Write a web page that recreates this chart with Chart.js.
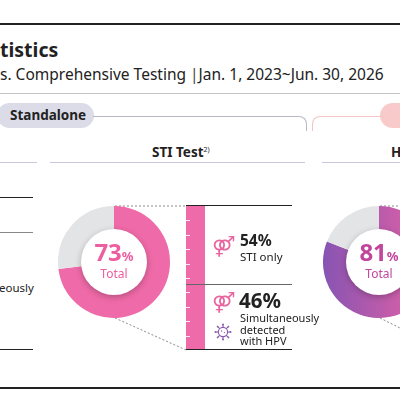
<!DOCTYPE html>
<html>
<head>
<meta charset="utf-8">
<script src="https://cdn.jsdelivr.net/npm/chart.js@4"></script>
<style>
html,body{margin:0;padding:0;width:400px;height:400px;overflow:hidden;background:#fff;font-family:"Noto Sans",sans-serif;color:#222;}
.a{position:absolute;}
.hl{position:absolute;height:0;}
.txt{position:absolute;white-space:nowrap;}
.inner{position:absolute;width:66px;height:66px;border-radius:50%;background:#fff;box-shadow:0 2px 6px rgba(0,0,0,0.25);}
</style>
</head>
<body>
<div class="hl" style="left:0;top:23px;width:400px;border-top:2px solid #222"></div>
<div class="txt" style="left:0;top:36px;font-size:19.5px;font-weight:700;">tistics</div>
<div class="txt" style="left:0;top:63px;font-size:15.5px;color:#222;">s. Comprehensive Testing <span style="color:#444">|</span>Jan. 1, 2023~Jun. 30, 2026</div>
<div class="hl" style="left:0;top:93px;width:400px;border-top:1px solid #c4c4c4"></div>

<div class="a" style="left:-3px;top:103px;width:97px;height:25px;border-radius:13px;background:#dcdce9;"></div>
<div class="txt" style="left:10px;top:106px;font-size:13.5px;font-weight:700;color:#222;">Standalone</div>
<div class="a" style="left:93px;top:116px;width:213px;height:14px;border-top:1px solid #b9b9c6;border-right:1px solid #b9b9c6;border-top-right-radius:8px;"></div>
<div class="a" style="left:312px;top:116px;width:80px;height:14px;border-top:1px solid #f3c6c6;border-left:1px solid #f3c6c6;border-top-left-radius:8px;"></div>
<div class="a" style="left:380px;top:103px;width:60px;height:25px;border-radius:13px;background:#f8cbca;"></div>

<div class="txt" style="left:152px;top:143px;font-size:13.5px;font-weight:700;">STI Test<sup style="font-size:7px;font-weight:400;">2)</sup></div>
<div class="txt" style="left:391px;top:143px;font-size:13.5px;font-weight:700;">H</div>
<div class="hl" style="left:0;top:162px;width:37px;border-top:1.5px solid #c9c9dc"></div>
<div class="hl" style="left:50px;top:162px;width:255px;border-top:1.5px solid #c9c9dc"></div>
<div class="hl" style="left:322px;top:162px;width:80px;border-top:1.5px solid #c9c9dc"></div>

<div class="hl" style="left:0;top:197px;width:33px;border-top:1.5px solid #222"></div>
<div class="hl" style="left:0;top:232px;width:33px;border-top:1px solid #888"></div>
<div class="txt" style="left:-1px;top:280px;font-size:11.5px;">eously</div>
<div class="hl" style="left:0;top:349px;width:33px;border-top:1.5px solid #222"></div>

<svg class="a" style="left:0;top:0" width="400" height="400">
  <line x1="115" y1="206" x2="186" y2="206" stroke="#8a8a8a" stroke-width="1" stroke-dasharray="2,2"/>
  <line x1="115" y1="318" x2="186" y2="350" stroke="#8a8a8a" stroke-width="1" stroke-dasharray="2,2"/>
  <line x1="380" y1="206" x2="400" y2="206" stroke="#8a8a8a" stroke-width="1" stroke-dasharray="2,2"/>
  <line x1="380" y1="318" x2="402" y2="329" stroke="#8a8a8a" stroke-width="1" stroke-dasharray="2,2"/>
</svg>

<div class="a" style="left:58px;top:206px;width:112px;height:112px;"><canvas id="sti"></canvas></div>
<div class="inner" style="left:81px;top:229px;"></div>
<div class="txt" style="left:81px;top:239px;width:66px;text-align:center;color:#ec5e9f;font-weight:700;font-size:24px;line-height:26px;">73<span style="font-size:13px;">%</span></div>
<div class="txt" style="left:81px;top:267px;width:66px;text-align:center;color:#ec5e9f;font-size:12px;line-height:14px;">Total</div>

<div class="a" style="left:323px;top:206px;width:112px;height:112px;"><canvas id="hpv"></canvas></div>
<div class="inner" style="left:346px;top:229px;"></div>
<div class="txt" style="left:346px;top:239px;width:66px;text-align:center;color:#c2459c;font-weight:700;font-size:24px;line-height:26px;">81<span style="font-size:13px;">%</span></div>
<div class="txt" style="left:346px;top:267px;width:66px;text-align:center;color:#c2459c;font-size:12px;line-height:14px;">Total</div>

<div class="a" style="left:186px;top:206px;width:19px;height:144px;"><canvas id="bar"></canvas></div>
<div class="hl" style="left:186px;top:205px;width:106px;border-top:1.5px solid #222"></div>
<div class="hl" style="left:186px;top:349px;width:106px;border-top:1.5px solid #222"></div>
<div class="hl" style="left:186px;top:284px;width:106px;border-top:1px solid #666"></div>

<div class="txt" style="left:212px;top:234px;font-family:'DejaVu Sans';font-size:20px;color:#e9659f;line-height:24px;">⚤</div>
<div class="txt" style="left:240px;top:232px;font-size:15.5px;font-weight:700;line-height:17px;">54%</div>
<div class="txt" style="left:240px;top:250px;font-size:11.5px;line-height:13px;">STI only</div>

<div class="txt" style="left:212px;top:290px;font-family:'DejaVu Sans';font-size:20px;color:#e9659f;line-height:24px;">⚤</div>
<svg class="a" style="left:214px;top:323px" width="18" height="18" viewBox="0 0 18 18">
  <g stroke="#8a5ab0" stroke-width="1.1" fill="none">
    <circle cx="9" cy="9" r="4.6"/>
    <line x1="9" y1="1.8" x2="9" y2="4.4"/><line x1="9" y1="13.6" x2="9" y2="16.2"/>
    <line x1="1.8" y1="9" x2="4.4" y2="9"/><line x1="13.6" y1="9" x2="16.2" y2="9"/>
    <line x1="3.9" y1="3.9" x2="5.7" y2="5.7"/><line x1="12.3" y1="12.3" x2="14.1" y2="14.1"/>
    <line x1="14.1" y1="3.9" x2="12.3" y2="5.7"/><line x1="5.7" y1="12.3" x2="3.9" y2="14.1"/>
  </g>
  <g fill="#8a5ab0">
    <circle cx="9" cy="1.5" r="1"/><circle cx="9" cy="16.5" r="1"/><circle cx="1.5" cy="9" r="1"/><circle cx="16.5" cy="9" r="1"/>
    <circle cx="3.6" cy="3.6" r="0.9"/><circle cx="14.4" cy="14.4" r="0.9"/><circle cx="14.4" cy="3.6" r="0.9"/><circle cx="3.6" cy="14.4" r="0.9"/>
    <circle cx="7.6" cy="8" r="0.7"/><circle cx="10.4" cy="9.6" r="0.7"/>
  </g>
</svg>
<div class="txt" style="left:239px;top:289px;font-size:20.5px;font-weight:700;line-height:22px;">46%</div>
<div class="txt" style="left:240px;top:312px;font-size:11px;line-height:11.5px;">Simultaneously</div>
<div class="txt" style="left:240px;top:323.5px;font-size:11px;line-height:11.5px;">detected</div>
<div class="txt" style="left:240px;top:335px;font-size:11px;line-height:11.5px;">with HPV</div>

<div class="hl" style="left:0;top:387px;width:400px;border-top:2px solid #222"></div>

<script>
const stiLabels = ["STI detected", "Not detected"];
const stiValues = [73, 27];
const hpvLabels = ["HPV detected", "Not detected"];
const hpvValues = [81, 19];
const breakdownLabels = ["Simultaneously detected with HPV", "STI only"];
const breakdownValues = [46, 54];
const barTicks = [10, 20, 30, 40, 50, 60, 70, 80, 90];

const PINK = "#ef6aa8";
const GRAY = "#e3e4e6";

const common = {
  responsive: true,
  maintainAspectRatio: false,
  animation: false,
  events: [],
  plugins: { legend: { display: false }, tooltip: { enabled: false } },
  layout: { padding: 0 }
};

new Chart(document.getElementById("sti"), {
  type: "doughnut",
  data: { labels: stiLabels, datasets: [{ data: stiValues, backgroundColor: [PINK, GRAY], borderWidth: 0 }] },
  options: Object.assign({}, common, { cutout: "56%" })
});

new Chart(document.getElementById("hpv"), {
  type: "doughnut",
  data: { labels: hpvLabels, datasets: [{
    data: hpvValues,
    backgroundColor: (c) => {
      if (c.dataIndex === 1) return GRAY;
      const ch = c.chart, a = ch.chartArea;
      if (!a) return "#b05aa8";
      const g = ch.ctx.createLinearGradient(a.left, 0, a.right, 0);
      g.addColorStop(0, "#8754b2");
      g.addColorStop(1, "#ea62a5");
      return g;
    },
    borderWidth: 0
  }] },
  options: Object.assign({}, common, { cutout: "56%" })
});

const tickPlugin = {
  id: "barTicks",
  afterDatasetsDraw(chart) {
    const ctx = chart.ctx, y = chart.scales.y, a = chart.chartArea;
    ctx.save();
    ctx.strokeStyle = "rgba(255,255,255,0.85)";
    ctx.lineWidth = 1;
    barTicks.forEach(v => {
      const py = Math.round(y.getPixelForValue(v)) + 0.5;
      ctx.beginPath();
      ctx.moveTo(a.left, py);
      ctx.lineTo(a.left + 4, py);
      ctx.stroke();
    });
    ctx.restore();
  }
};

new Chart(document.getElementById("bar"), {
  type: "bar",
  data: {
    labels: ["STI"],
    datasets: breakdownValues.map((v, i) => ({
      label: breakdownLabels[i], data: [v], backgroundColor: PINK, borderWidth: 0,
      barPercentage: 1, categoryPercentage: 1
    }))
  },
  options: Object.assign({}, common, {
    scales: {
      x: { stacked: true, display: false },
      y: { stacked: true, display: false, min: 0, max: 100 }
    }
  }),
  plugins: [tickPlugin]
});
</script>
</body>
</html>
